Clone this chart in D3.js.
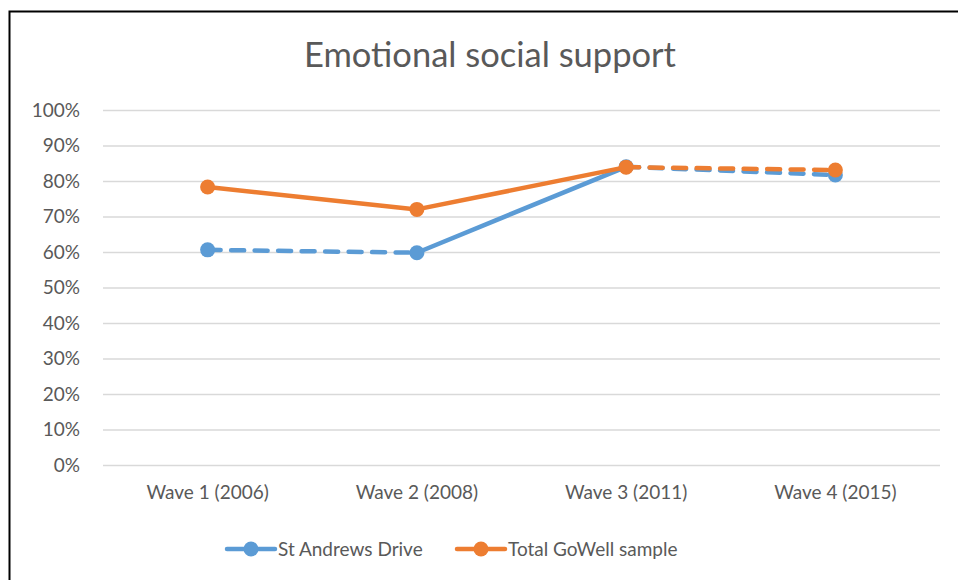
<!DOCTYPE html>
<html>
<head>
<meta charset="utf-8">
<script src="https://cdn.jsdelivr.net/npm/d3@7"></script>
<style>
  html, body { margin: 0; padding: 0; background: #fff; }
  svg { display: block; font-family: Lato, "Open Sans", sans-serif; }
</style>
</head>
<body>
<svg id="chart" width="958" height="580"></svg>
<script>
// Survey waves and share of respondents reporting emotional social support
const categories = ["Wave 1 (2006)", "Wave 2 (2008)", "Wave 3 (2011)", "Wave 4 (2015)"];
const stAndrews = [0.606, 0.598, 0.840, 0.817];
const goWellTotal = [0.783, 0.720, 0.839, 0.831];
const seriesNames = ["St Andrews Drive", "Total GoWell sample"];
const yTicks = [0, 0.1, 0.2, 0.3, 0.4, 0.5, 0.6, 0.7, 0.8, 0.9, 1.0];

// Line styling per series: colour and which segments are dashed
const seriesStyle = [
  { color: "#5B9BD5", dashed: [true, false, true] },
  { color: "#ED7D31", dashed: [false, false, true] }
];

const svg = d3.select("#chart");
const W = 958, H = 580;
const margin = { left: 103, right: 18, top: 110, bottom: 115 };
const plotW = W - margin.left - margin.right;
const plotH = H - margin.top - margin.bottom;
const fontSize = 19;

// Outer frame
svg.append("rect")
  .attr("x", 9.5).attr("y", 11.5)
  .attr("width", W + 10).attr("height", H + 10)
  .attr("fill", "none").attr("stroke", "#000").attr("stroke-width", 2);

// Title
svg.append("text")
  .attr("x", 490).attr("y", 67)
  .attr("text-anchor", "middle")
  .attr("font-size", 34.5)
  .attr("fill", "#595959")
  .text("Emotional social support");

const x = d3.scaleBand().domain(categories).range([0, plotW]);
const y = d3.scaleLinear().domain([0, 1]).range([plotH, 0]);

const g = svg.append("g").attr("transform", `translate(${margin.left},${margin.top})`);

// Horizontal gridlines and percentage labels
const yAxis = d3.axisLeft(y).tickValues(yTicks).tickFormat(d3.format(".0%"))
  .tickSize(-plotW).tickPadding(23);
g.append("g").call(yAxis).call(a => {
  a.select(".domain").remove();
  a.selectAll(".tick line").attr("stroke", "#D9D9D9").attr("stroke-width", 1.3);
  a.selectAll(".tick text").attr("fill", "#595959").attr("font-size", fontSize)
    .attr("font-family", "Lato, 'Open Sans', sans-serif");
});

// Category labels
const xAxis = d3.axisBottom(x).tickSize(0).tickPadding(21);
g.append("g").attr("transform", `translate(0,${plotH})`).call(xAxis).call(a => {
  a.select(".domain").remove();
  a.selectAll(".tick text").attr("fill", "#595959").attr("font-size", fontSize)
    .attr("font-family", "Lato, 'Open Sans', sans-serif");
});

const cx = c => x(c) + x.bandwidth() / 2;
const allSeries = [stAndrews, goWellTotal];

allSeries.forEach((vals, si) => {
  const st = seriesStyle[si];
  const sg = g.append("g");
  const pts = vals.map((v, i) => [cx(categories[i]), y(v)]);
  d3.pairs(pts).forEach((pair, i) => {
    sg.append("path")
      .attr("d", d3.line()(pair))
      .attr("fill", "none")
      .attr("stroke", st.color)
      .attr("stroke-width", 4.5)
      .attr("stroke-linecap", "round")
      .attr("stroke-dasharray", st.dashed[i] ? "13,10.5" : null);
  });
  sg.selectAll("circle").data(pts).join("circle")
    .attr("cx", d => d[0]).attr("cy", d => d[1]).attr("r", 7.5)
    .attr("fill", st.color);
});

// Legend
const legendX = [227, 457];
const legendY = 549;
seriesNames.forEach((name, i) => {
  const lg = svg.append("g").attr("transform", `translate(${legendX[i]},${legendY})`);
  lg.append("line").attr("x1", 0).attr("x2", 48).attr("y1", 0).attr("y2", 0)
    .attr("stroke", seriesStyle[i].color).attr("stroke-width", 4.5).attr("stroke-linecap", "round");
  lg.append("circle").attr("cx", 24).attr("cy", 0).attr("r", 7.5).attr("fill", seriesStyle[i].color);
  lg.append("text").attr("x", 51).attr("y", 7)
    .attr("font-size", fontSize).attr("fill", "#595959").text(name);
});
</script>
</body>
</html>
